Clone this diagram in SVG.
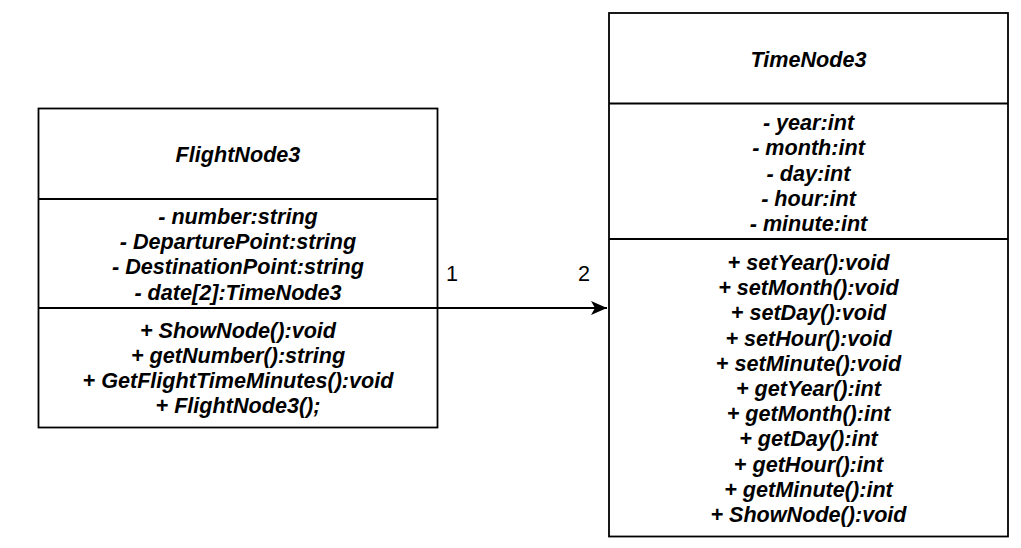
<svg xmlns="http://www.w3.org/2000/svg" width="1021" height="548" viewBox="0 0 1021 548">
<style>
  .box { fill: #ffffff; stroke: #000000; stroke-width: 1.8; }
  .div { stroke: #000000; stroke-width: 1.8; fill: none; }
  .t { font-family: "Liberation Sans", Arial, sans-serif; font-size: 21.6px; font-weight: bold; font-style: italic; fill: #000000; text-anchor: middle; }
  .lbl { font-family: "Liberation Sans", Arial, sans-serif; font-size: 21.6px; fill: #000000; }
  .edge { stroke: #000000; stroke-width: 1.8; fill: none; }
</style>
<defs>
  <marker id="arrow" markerUnits="userSpaceOnUse" markerWidth="20" markerHeight="20" refX="16" refY="7" orient="auto">
    <path d="M0,0 L16,7 L0,14 L4,7 Z" fill="#000000"/>
  </marker>
</defs>
<rect width="1021" height="548" fill="#ffffff"/>
<g id="connectors">
  <line class="edge" x1="438" y1="308" x2="607" y2="308" marker-end="url(#arrow)"/>
  <text class="lbl" x="446" y="281">1</text>
  <text class="lbl" x="578" y="281">2</text>
</g>
<g id="FlightNode3">
  <rect class="box" x="38.5" y="108.5" width="399" height="319"/>
  <line class="div" x1="38.5" y1="199" x2="437.5" y2="199"/>
  <line class="div" x1="38.5" y1="308" x2="437.5" y2="308"/>
  <text class="t" x="238" y="161.7">FlightNode3</text>
  <text class="t" x="238" y="224">- number:string</text>
  <text class="t" x="238" y="249.2">- DeparturePoint:string</text>
  <text class="t" x="238" y="274.4">- DestinationPoint:string</text>
  <text class="t" x="238" y="299.6">- date[2]:TimeNode3</text>
  <text class="t" x="238" y="338">+ ShowNode():void</text>
  <text class="t" x="238" y="363">+ getNumber():string</text>
  <text class="t" x="238" y="388">+ GetFlightTimeMinutes():void</text>
  <text class="t" x="238" y="413">+ FlightNode3();</text>
</g>
<g id="TimeNode3">
  <rect class="box" x="609" y="13" width="399" height="523.5"/>
  <line class="div" x1="609" y1="103.5" x2="1008" y2="103.5"/>
  <line class="div" x1="609" y1="239" x2="1008" y2="239"/>
  <text class="t" x="808.5" y="66.7">TimeNode3</text>
  <text class="t" x="808.5" y="130">- year:int</text>
  <text class="t" x="808.5" y="155.3">- month:int</text>
  <text class="t" x="808.5" y="180.6">- day:int</text>
  <text class="t" x="808.5" y="205.9">- hour:int</text>
  <text class="t" x="808.5" y="231.2">- minute:int</text>
  <text class="t" x="808.5" y="270">+ setYear():void</text>
  <text class="t" x="808.5" y="295.2">+ setMonth():void</text>
  <text class="t" x="808.5" y="320.4">+ setDay():void</text>
  <text class="t" x="808.5" y="345.6">+ setHour():void</text>
  <text class="t" x="808.5" y="370.8">+ setMinute():void</text>
  <text class="t" x="808.5" y="396">+ getYear():int</text>
  <text class="t" x="808.5" y="421.2">+ getMonth():int</text>
  <text class="t" x="808.5" y="446.4">+ getDay():int</text>
  <text class="t" x="808.5" y="471.6">+ getHour():int</text>
  <text class="t" x="808.5" y="496.8">+ getMinute():int</text>
  <text class="t" x="808.5" y="522">+ ShowNode():void</text>
</g>
</svg>
